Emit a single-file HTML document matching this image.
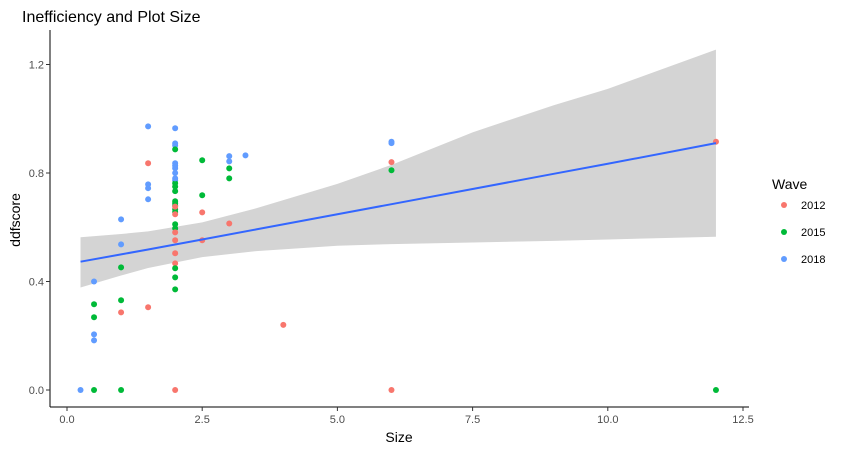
<!DOCTYPE html>
<html><head><meta charset="utf-8"><style>
body{margin:0;background:#fff;font-family:"Liberation Sans",sans-serif}
svg text{font-family:"Liberation Sans",sans-serif}
</style></head><body>
<svg width="845" height="452" id="c"></svg>
<script>
const xs=[0.25,0.5,0.5,0.5,0.5,0.5,0.5,1,1,1,1,1,1,1.5,1.5,1.5,1.5,1.5,1.5,
2,2,2,2,2,2,2,2,2,2,2,2,2,2,2,2,2,2,2,2,2,2,2,2,2,2,2,2,2,2,
2.5,2.5,2.5,2.5,3,3,3,3,3,3.3,4,6,6,6,6,6,12,12];
const ys=[0,0.40,0.316,0.268,0.205,0.183,0,0.629,0.537,0.452,0.331,0.286,0,0.972,0.836,0.758,0.744,0.703,0.305,
0.965,0.909,0.902,0.887,0.836,0.827,0.818,0.80,0.773,0.762,0.75,0.733,0.696,0.689,0.68,0.666,0.656,0.676,0.648,0.611,0.596,0.581,0.552,0.504,0.467,0.449,0.415,0.371,0,0.780,
0.847,0.718,0.655,0.552,0.862,0.843,0.817,0.780,0.614,0.865,0.24,0.915,0.91,0.84,0.81,0,0.915,0];
const waves=["2018","2018","2015","2015","2018","2018","2015","2018","2018","2015","2015","2012","2015","2018","2012","2018","2018","2018","2012",
"2018","2018","2018","2015","2018","2018","2018","2018","2018","2015","2015","2015","2015","2015","2015","2015","2015","2012","2012","2015","2015","2012","2012","2012","2012","2015","2015","2015","2012","2018",
"2015","2015","2012","2012","2018","2018","2015","2015","2012","2018","2012","2018","2018","2012","2015","2012","2012","2015"];
// fitted smooth
const fitX=[0.25,1,1.5,2.5,3.5,5,6,7.5,9,10,12];
const fitY=[0.473,0.500,0.518,0.555,0.592,0.648,0.685,0.741,0.797,0.834,0.910];
const bandUp=[0.563,0.575,0.585,0.618,0.670,0.760,0.830,0.950,1.050,1.110,1.255];
const bandLo=[0.378,0.422,0.450,0.490,0.512,0.532,0.538,0.544,0.550,0.555,0.565];
const xTicks=[0,2.5,5,7.5,10,12.5];
const yTicks=[0,0.4,0.8,1.2];
const levels=["2012","2015","2018"];
const colors={"2012":"#F8766D","2015":"#00BA38","2018":"#619CFF"};
const NS="http://www.w3.org/2000/svg",svg=document.getElementById('c');
const X=v=>67+v*54.08, Y=v=>390-v*271.25;
function el(t,a,txt){const e=document.createElementNS(NS,t);for(const k in a)e.setAttribute(k,a[k]);if(txt!=null)e.textContent=txt;svg.appendChild(e);return e;}
const up=fitX.map((x,i)=>X(x)+','+Y(bandUp[i]));
const lo=fitX.map((x,i)=>X(x)+','+Y(bandLo[i])).reverse();
let e=el('polygon',{points:up.concat(lo).join(' '),fill:'#d4d4d4'});

for(let i=0;i<xs.length;i++){e=el('circle',{cx:X(xs[i]),cy:Y(ys[i]),r:3,fill:colors[waves[i]]});
}
e=el('polyline',{points:fitX.map((x,i)=>X(x)+','+Y(fitY[i])).join(' '),fill:'none',stroke:'#3366FF','stroke-width':2});

e=el('line',{x1:50,y1:30,x2:50,y2:407,stroke:'#000'});
e=el('line',{x1:50,y1:407,x2:749,y2:407,stroke:'#000'});
xTicks.forEach(v=>{el('line',{x1:X(v),x2:X(v),y1:407,y2:411,stroke:'#333'});
e=el('text',{x:X(v),y:423,'text-anchor':'middle','font-size':11,fill:'#4d4d4d'},v.toFixed(1));
});
yTicks.forEach(v=>{el('line',{x1:46,x2:50,y1:Y(v),y2:Y(v),stroke:'#333'});
e=el('text',{x:44,y:Y(v)+4,'text-anchor':'end','font-size':11,fill:'#4d4d4d'},v.toFixed(1));
});
e=el('text',{x:22,y:22,'font-size':16,fill:'#000'},'Inefficiency and Plot Size');
e=el('text',{x:399,y:442,'text-anchor':'middle','font-size':14},'Size');
e=el('text',{x:0,y:0,transform:'translate(20,220) rotate(-90)','text-anchor':'middle','font-size':14},'ddfscore');
e=el('text',{x:772,y:189,'font-size':14},'Wave');
levels.forEach((l,i)=>{const y=205+i*27;
e=el('circle',{cx:784,cy:y,r:3,fill:colors[l]});
e=el('text',{x:801,y:y+4,'font-size':11,fill:'#000'},l);});
</script></body></html>
